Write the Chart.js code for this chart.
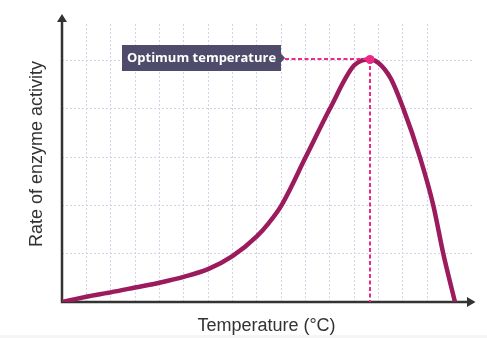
<!DOCTYPE html>
<html>
<head>
<meta charset="utf-8">
<script src="https://cdn.jsdelivr.net/npm/chart.js@4.4.1/dist/chart.umd.min.js"></script>
<style>
  html, body { margin: 0; padding: 0; background: #f5f5f6; }
  #wrap { width: 487px; height: 335px; background: #fff; }
</style>
</head>
<body>
<div id="wrap"><canvas id="enzyme-chart" width="487" height="335"></canvas></div>
<script>
const temperature = [0, 1, 2, 3, 4, 5, 6, 7, 8, 8.5, 9, 10, 11, 12, 12.65, 13, 13.5, 14, 14.7, 15.25, 15.66, 16.14];
const rate = [0, 0.11, 0.2, 0.3, 0.4, 0.52, 0.68, 0.95, 1.36, 1.64, 1.99, 2.99, 4.0, 4.9, 5.02, 4.95, 4.63, 4.03, 3.0, 2.0, 1.0, 0];
const peakIndex = 14;
const xTitle = 'Temperature (°C)';
const yTitle = 'Rate of enzyme activity';
const peakLabel = 'Optimum temperature';

const axisColor = '#333333';
const curveColor = '#9b1b5d';
const pink = '#ec2a85';
const gridColor = '#d4d2e6';

const intGrid = (ctx) => {
  const v = ctx.tick.value;
  return (v > 0 && Math.abs(v - Math.round(v)) < 1e-6) ? gridColor : 'rgba(0,0,0,0)';
};

// axes with arrows, drawn under the curve
const axesPlugin = {
  id: 'axes',
  beforeDatasetsDraw(chart) {
    const { ctx, chartArea: a } = chart;
    ctx.save();
    ctx.strokeStyle = axisColor;
    ctx.fillStyle = axisColor;
    ctx.lineWidth = 2.5;
    ctx.beginPath();
    ctx.moveTo(a.left, a.bottom);
    ctx.lineTo(a.left, 20);
    ctx.moveTo(a.left - 1.2, a.bottom);
    ctx.lineTo(470, a.bottom);
    ctx.stroke();
    ctx.beginPath();
    ctx.moveTo(a.left, 14);
    ctx.lineTo(a.left - 5, 22);
    ctx.lineTo(a.left + 5, 22);
    ctx.closePath();
    ctx.fill();
    ctx.beginPath();
    ctx.moveTo(475.5, a.bottom);
    ctx.lineTo(467, a.bottom - 5);
    ctx.lineTo(467, a.bottom + 5);
    ctx.closePath();
    ctx.fill();

    ctx.font = '18px "Liberation Sans", Arial, sans-serif';
    ctx.textAlign = 'center';
    ctx.textBaseline = 'alphabetic';
    ctx.fillText(xTitle, 266.5, 331);
    ctx.translate(42, 154);
    ctx.rotate(-Math.PI / 2);
    ctx.fillText(yTitle, 0, 0);
    ctx.restore();
  }
};

// optimum marker, dashed guides and label box
const optimumPlugin = {
  id: 'optimum',
  afterDatasetsDraw(chart) {
    const { ctx, chartArea: a, scales } = chart;
    const px = scales.x.getPixelForValue(temperature[peakIndex]);
    const py = scales.y.getPixelForValue(rate[peakIndex]);
    ctx.save();
    ctx.strokeStyle = pink;
    ctx.lineWidth = 2;
    ctx.setLineDash([4, 2.5]);
    ctx.beginPath();
    ctx.moveTo(285, py - 0.5);
    ctx.lineTo(px, py - 0.5);
    ctx.moveTo(px, py);
    ctx.lineTo(px, a.bottom);
    ctx.stroke();
    ctx.setLineDash([]);
    ctx.fillStyle = pink;
    ctx.beginPath();
    ctx.arc(px, py, 4.5, 0, Math.PI * 2);
    ctx.fill();

    // label box
    const bx = 122, by = 45, bw = 159, bh = 26;
    ctx.fillStyle = '#4e4b6b';
    ctx.fillRect(bx, by, bw, bh);
    ctx.beginPath();
    ctx.moveTo(bx + bw, by + bh / 2 - 4.5);
    ctx.lineTo(bx + bw + 4, by + bh / 2);
    ctx.lineTo(bx + bw, by + bh / 2 + 4.5);
    ctx.closePath();
    ctx.fill();
    ctx.fillStyle = '#ffffff';
    ctx.font = 'bold 13px "Open Sans", sans-serif';
    ctx.textAlign = 'center';
    ctx.textBaseline = 'middle';
    ctx.fillText(peakLabel, bx + bw / 2, by + bh / 2 + 0.5);
    ctx.restore();
  }
};

new Chart(document.getElementById('enzyme-chart'), {
  type: 'line',
  data: {
    datasets: [{
      data: temperature.map((t, i) => ({ x: t, y: rate[i] })),
      borderColor: curveColor,
      borderWidth: 4.5,
      pointRadius: 0,
      cubicInterpolationMode: 'monotone',
      fill: false
    }]
  },
  options: {
    responsive: false,
    animation: false,
    layout: { padding: { left: 62, right: 14, top: 24, bottom: 33 } },
    plugins: { legend: { display: false }, tooltip: { enabled: false } },
    scales: {
      x: {
        type: 'linear',
        min: 0,
        max: 16.88,
        ticks: { display: false, stepSize: 1 },
        border: { display: false, dash: [2, 2] },
        grid: { drawTicks: false, color: intGrid, lineWidth: 1 },
        afterFit: (s) => { s.height = 0; }
      },
      y: {
        min: 0,
        max: 5.756,
        ticks: { display: false, stepSize: 1 },
        border: { display: false, dash: [2, 2] },
        grid: { drawTicks: false, color: intGrid, lineWidth: 1 },
        afterFit: (s) => { s.width = 0; }
      }
    }
  },
  plugins: [axesPlugin, optimumPlugin]
});
</script>
</body>
</html>
